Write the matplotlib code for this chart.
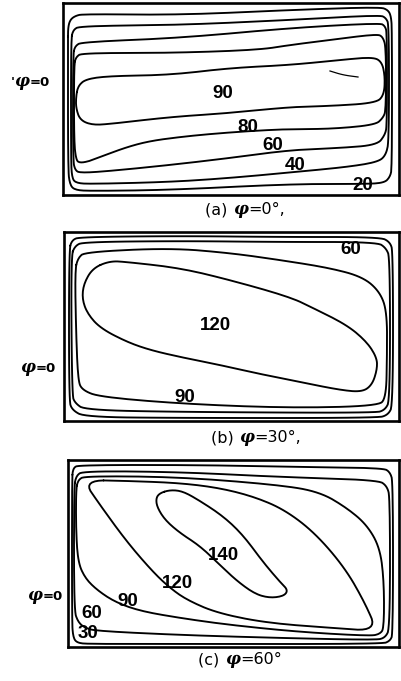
import numpy as np
import matplotlib
matplotlib.use("Agg")
import matplotlib.pyplot as plt
from matplotlib.offsetbox import TextArea, HPacker, AnnotationBbox

# Stream-function isolines in the rectangular cavity.
# x runs to the right, y is measured downward from the lid; units are cavity lengths
# on the same scale as the panel size given below.

# ---------------- (a) phi = 0 deg ----------------
a_size = (336, 192)
a_psi20 = [(5, 40), (5, 25), (7, 17), (12, 13), (20, 11), (117, 12), (227, 7), (317, 4), (325, 7),
           (328, 13), (329, 27), (329, 165), (327, 174), (321, 180), (300, 181), (227, 181),
           (107, 187), (27, 188), (12, 187), (7, 182), (5, 167)]
a_psi40 = [(8, 37), (10, 27), (17, 23), (117, 22), (227, 17), (317, 12), (323, 15), (326, 22),
           (326, 137), (323, 152), (315, 159), (284, 164), (232, 169), (167, 175), (107, 179),
           (27, 181), (13, 180), (9, 175), (8, 157)]
a_psi60 = [(10, 52), (12, 43), (19, 39), (117, 35), (227, 25), (317, 20), (322, 23), (324, 30),
           (324, 122), (322, 132), (314, 142), (277, 145), (227, 147), (167, 155), (107, 162),
           (47, 168), (17, 170), (12, 167), (10, 157)]
a_psi80 = [(11, 62), (13, 54), (19, 50), (107, 50), (195, 47), (227, 42), (267, 37), (314, 31),
           (320, 34), (323, 45), (323, 107), (320, 115), (312, 122), (267, 126), (227, 126),
           (187, 128), (147, 131), (117, 134), (87, 138), (64, 144), (37, 154), (27, 158),
           (17, 160), (13, 157), (11, 137)]
a_psi90 = [(13, 94), (15, 83), (23, 76), (47, 73), (107, 72), (167, 65), (227, 62), (277, 57),
           (310, 54), (319, 59), (322, 74), (321, 92), (313, 100), (267, 103), (227, 104),
           (167, 110), (107, 114), (47, 121), (29, 122), (17, 117), (13, 105)]
a_stroke = [(267, 68), (280, 72), (295, 74)]
a_lines = {20: a_psi20, 40: a_psi40, 60: a_psi60, 80: a_psi80, 90: a_psi90}
a_label_at = {90: (160, 90), 80: (185, 124), 60: (210, 142), 40: (232, 162), 20: (300, 182)}

# ---------------- (b) phi = 30 deg ----------------
b_size = (335, 189)
b_psi30 = [(5, 18), (8, 8), (16, 5), (116, 4), (216, 5), (316, 5), (326, 10), (329, 20),
           (329, 173), (324, 183), (313, 186), (116, 186), (21, 185), (8, 178), (5, 168)]
b_psi60 = [(7, 24), (11, 14), (19, 10), (116, 9), (216, 10), (313, 10), (322, 16), (326, 26),
           (326, 168), (321, 178), (311, 181), (116, 180), (21, 178), (11, 171), (8, 163)]
b_psi90 = [(11, 38), (14, 26), (21, 20), (106, 16), (166, 21), (216, 28), (266, 36), (299, 45),
           (316, 60), (323, 80), (323, 126), (322, 166), (314, 174), (226, 176), (121, 172),
           (36, 165), (18, 158), (14, 148), (12, 98)]
b_psi120 = [(29, 36), (46, 29), (63, 30), (116, 36), (166, 48), (226, 65), (249, 76), (283, 93),
            (303, 110), (313, 126), (313, 138), (308, 153), (298, 160), (276, 158), (236, 150),
            (196, 142), (156, 133), (116, 125), (86, 118), (63, 110), (36, 96), (23, 81),
            (18, 66), (20, 51)]
b_lines = {30: b_psi30, 60: b_psi60, 90: b_psi90, 120: b_psi120}
b_label_at = {60: (287, 18), 120: (151, 93), 90: (121, 166)}

# ---------------- (c) phi = 60 deg ----------------
c_size = (331, 187)
c_psi30 = [(4, 20), (5, 8), (11, 5), (132, 5), (232, 7), (315, 8), (322, 12), (325, 22),
           (325, 174), (322, 181), (314, 184), (132, 184), (22, 184), (9, 183), (5, 177), (4, 160)]
c_psi60 = [(6, 28), (8, 16), (15, 11), (112, 12), (212, 17), (310, 20), (319, 26), (322, 38),
           (322, 168), (317, 178), (307, 180), (212, 178), (112, 175), (29, 171), (17, 168),
           (10, 162), (6, 150)]
c_psi90 = [(8, 30), (10, 20), (17, 16), (112, 17), (212, 25), (252, 32), (279, 48), (299, 65),
           (312, 88), (316, 122), (316, 168), (312, 174), (302, 176), (232, 172), (162, 165),
           (112, 158), (72, 151), (47, 142), (29, 130), (17, 118), (10, 102), (8, 70)]
c_psi120 = [(15, 20), (62, 21), (112, 23), (152, 28), (187, 37), (217, 50), (247, 73), (277, 108),
            (297, 143), (309, 171), (265, 168), (199, 163), (149, 153), (119, 140), (102, 128),
            (85, 112), (59, 82), (32, 45)]
c_psi140 = [(92, 33), (102, 30), (114, 31), (129, 39), (155, 56), (175, 75), (195, 102), (212, 122),
            (220, 130), (216, 136), (202, 138), (187, 134), (169, 121), (152, 105), (132, 86),
            (112, 73), (97, 60), (89, 47), (88, 38)]
c_lines = {30: c_psi30, 60: c_psi60, 90: c_psi90, 120: c_psi120, 140: c_psi140}
c_label_at = {140: (155, 95), 120: (109, 123), 90: (60, 142), 60: (24, 153), 30: (20, 174)}

captions = [("(a) ", "=0°,"), ("(b) ", "=30°,"), ("(c) ", "=60°")]

# ---------------- drawing ----------------
W_PX, H_PX = 401, 681
fig = plt.figure(figsize=(W_PX / 100, H_PX / 100), dpi=100)
fig.patch.set_facecolor("white")

LABEL_FONT = dict(family=["Liberation Sans", "DejaVu Sans"], fontweight="bold",
                  fontsize=13.5, color="black")
PHI_FONT = dict(family="DejaVu Serif", fontstyle="italic", fontweight="bold",
                fontsize=12, color="black")


def smooth_closed(pts, n=3):
    p = np.asarray(pts, dtype=float)
    for _ in range(n):
        nxt = np.roll(p, -1, axis=0)
        p = np.stack([0.75 * p + 0.25 * nxt, 0.25 * p + 0.75 * nxt], axis=1).reshape(-1, 2)
    return np.vstack([p, p[:1]])


def smooth_open(pts, n=3):
    p = np.asarray(pts, dtype=float)
    for _ in range(n):
        a = 0.75 * p[:-1] + 0.25 * p[1:]
        b = 0.25 * p[:-1] + 0.75 * p[1:]
        mid = np.stack([a, b], axis=1).reshape(-1, 2)
        p = np.vstack([p[:1], mid, p[-1:]])
    return p


def rich(x, y, pieces):
    boxes = [TextArea(t, textprops=props) for t, props in pieces]
    pack = HPacker(children=boxes, align="baseline", pad=0, sep=0)
    ab = AnnotationBbox(pack, (x / W_PX, 1 - y / H_PX), xycoords="figure fraction",
                        frameon=False, box_alignment=(0.5, 0.5), pad=0)
    fig.add_artist(ab)


def panel(box, size, lines, label_at, extra=None):
    left, top, right, bottom = box
    ax = fig.add_axes([left / W_PX, 1 - bottom / H_PX, (right - left) / W_PX, (bottom - top) / H_PX])
    w, h = size
    ax.set_xlim(0, w)
    ax.set_ylim(h, 0)
    ax.set_xticks([])
    ax.set_yticks([])
    for s in ax.spines.values():
        s.set_linewidth(1.9)
        s.set_color("black")
    for level, pts in lines.items():
        xy = smooth_closed(pts)
        ax.plot(xy[:, 0], xy[:, 1], color="black", lw=1.35, clip_on=False,
                solid_capstyle="round", solid_joinstyle="round")
        if level in label_at:
            lx, ly = label_at[level]
            ax.text(lx, ly, str(level), ha="center", va="center", **LABEL_FONT)
    if extra is not None:
        xy = smooth_open(extra)
        ax.plot(xy[:, 0], xy[:, 1], color="black", lw=0.9)
    return ax


panel((63, 3, 399, 195), a_size, a_lines, a_label_at, extra=a_stroke)
panel((64, 232, 399, 421), b_size, b_lines, b_label_at)
panel((68, 460, 399, 647), c_size, c_lines, c_label_at)

# wall labels on the left side
small = dict(family="DejaVu Sans", fontweight="bold", fontsize=9.5, color="black")
rich(30, 82, [("'", small), ("φ", PHI_FONT), ("=0", small)])
rich(38, 367, [("φ", PHI_FONT), ("=0", small)])
rich(45, 595, [("φ", PHI_FONT), ("=0", small)])

# panel captions
cap = dict(family="DejaVu Sans", fontsize=11.5, color="black")
for (prefix, suffix), (cx, cy) in zip(captions, [(245, 210), (256, 438), (240, 660)]):
    rich(cx, cy, [(prefix, cap), ("φ", PHI_FONT), (suffix, cap)])

fig.savefig("out.png", dpi=100, facecolor="white")
